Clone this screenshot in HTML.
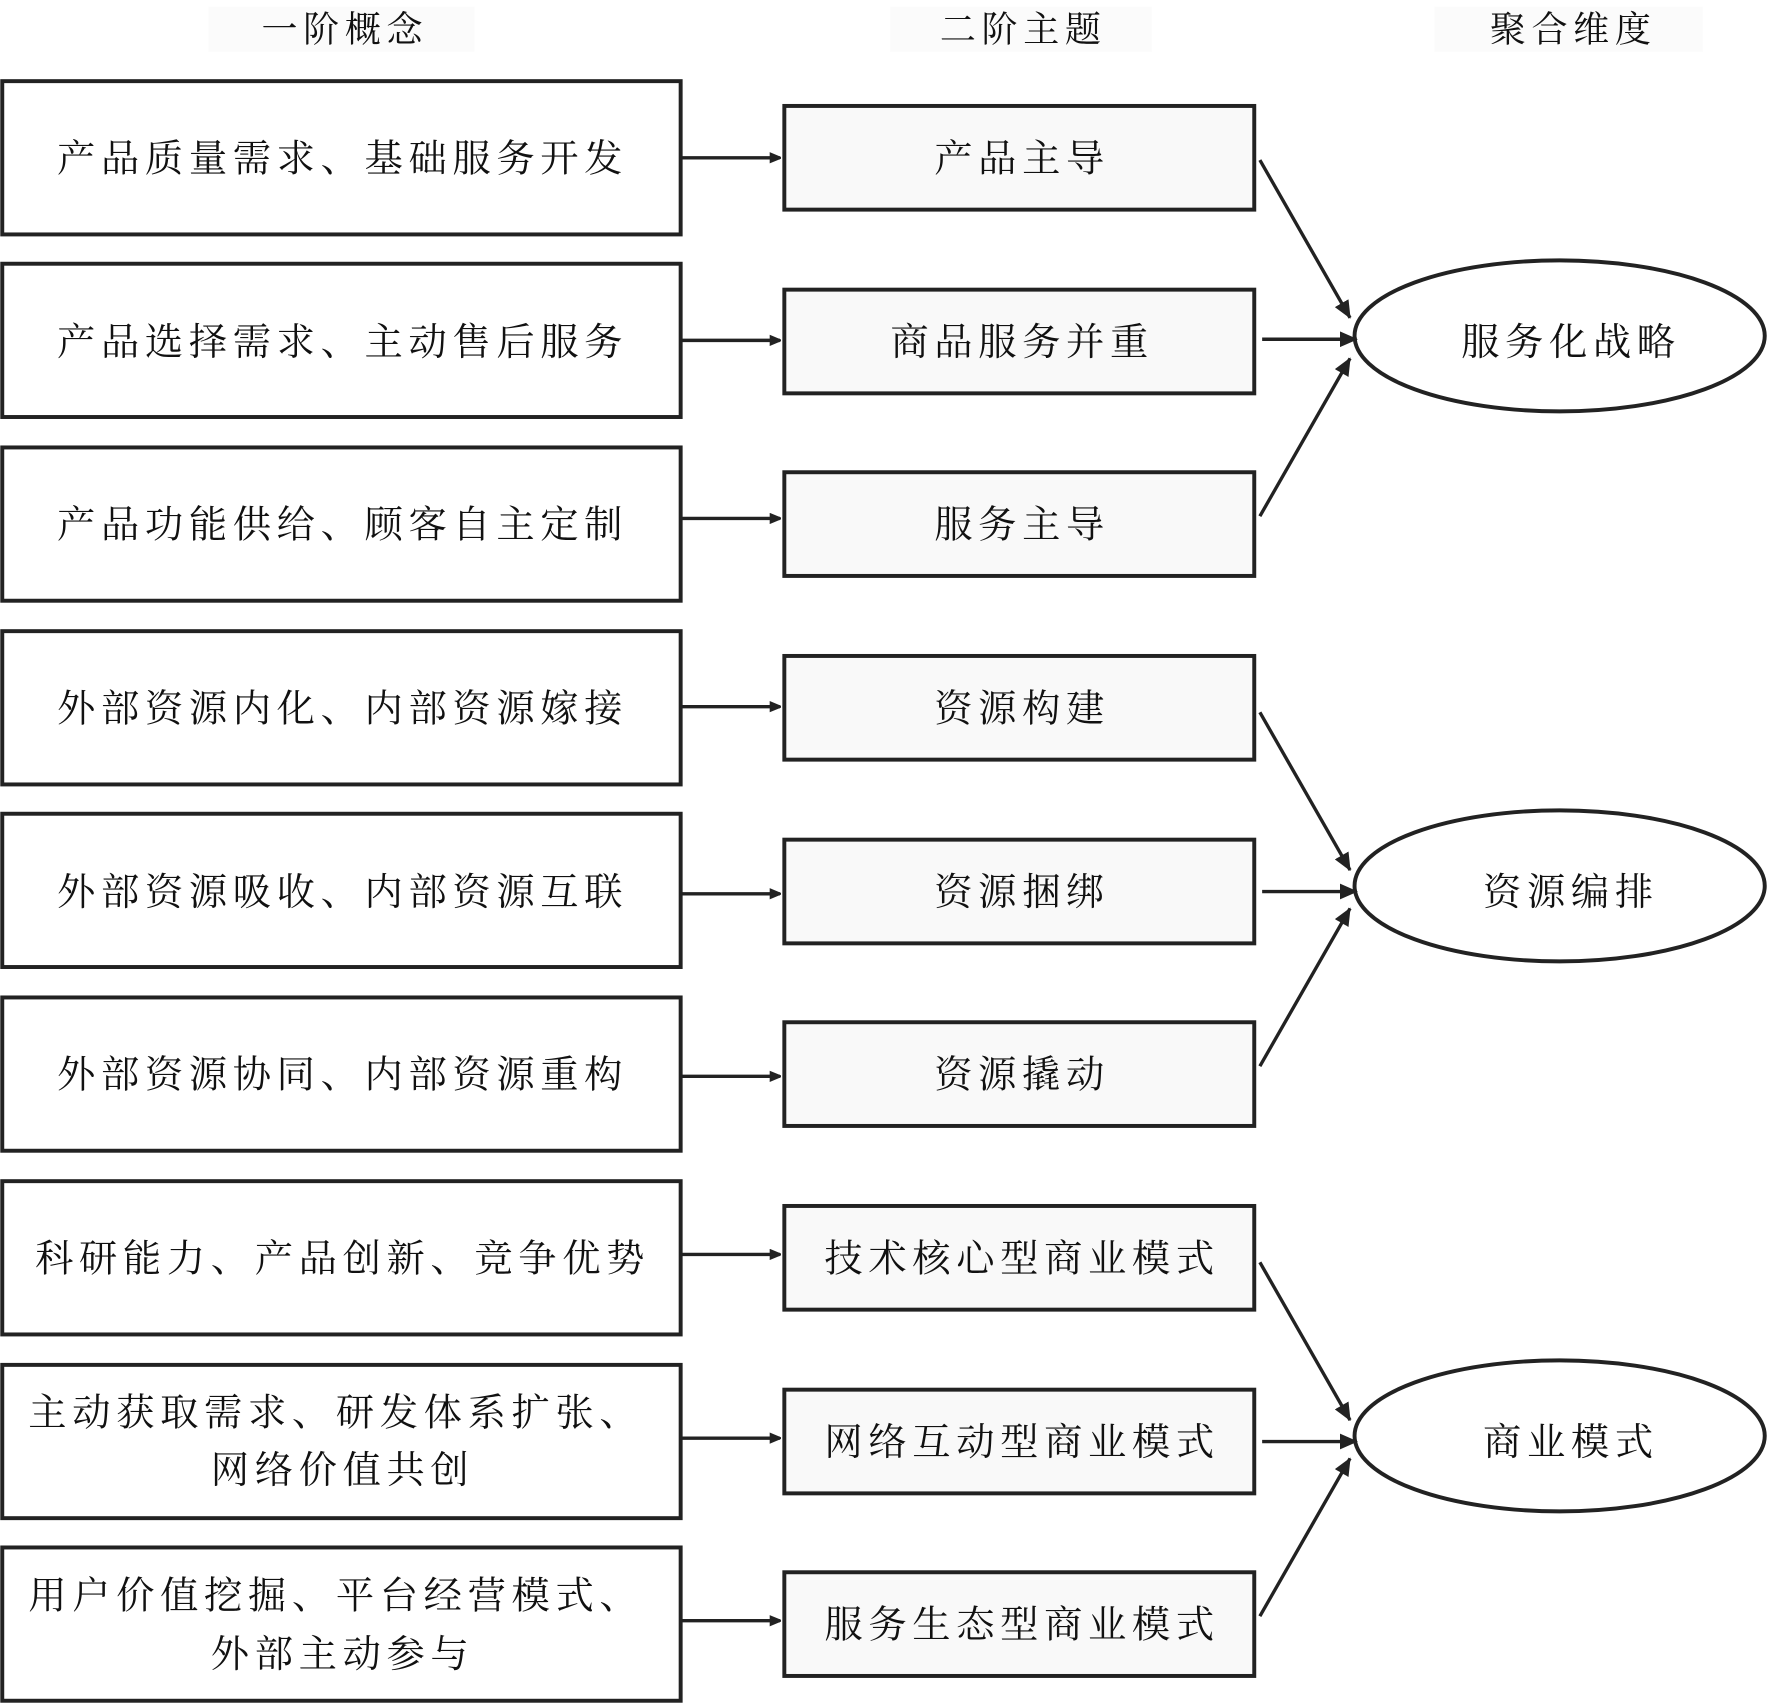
<!DOCTYPE html>
<html><head><meta charset="utf-8"><style>
html,body{margin:0;padding:0;background:#fff;}
svg{display:block;}
text{font-family:"Liberation Serif","Noto Serif CJK SC",serif;fill:#111;}
</style></head><body>
<svg width="1767" height="1703" viewBox="0 0 1568 1511" preserveAspectRatio="none" xmlns="http://www.w3.org/2000/svg">
<defs><marker id="a" markerWidth="10" markerHeight="10" refX="9" refY="5" orient="auto" markerUnits="userSpaceOnUse"><path d="M0,0 L12,5 L0,10 Z" fill="#222"/></marker>
<marker id="b" markerWidth="16" markerHeight="14" refX="15" refY="7" orient="auto" markerUnits="userSpaceOnUse"><path d="M0,0 L16,7 L0,14 Z" fill="#222"/></marker></defs>
<rect x="185" y="6" width="236" height="40" fill="#fbfbfb"/>
<rect x="790" y="6" width="232" height="40" fill="#fbfbfb"/>
<rect x="1273" y="6" width="238" height="40" fill="#fbfbfb"/>
<g font-size="32" text-anchor="middle" letter-spacing="5">
<text x="306" y="37">一阶概念</text>
<text x="908" y="37">二阶主题</text>
<text x="1396" y="37">聚合维度</text>
</g>
<g fill="#fff" stroke="#222" stroke-width="3.5">
<rect x="2" y="72" width="602" height="136"/>
<rect x="2" y="234" width="602" height="136"/>
<rect x="2" y="397" width="602" height="136"/>
<rect x="2" y="560" width="602" height="136"/>
<rect x="2" y="722" width="602" height="136"/>
<rect x="2" y="885" width="602" height="136"/>
<rect x="2" y="1048" width="602" height="136"/>
<rect x="2" y="1211" width="602" height="136"/>
<rect x="2" y="1373" width="602" height="136"/>
</g>
<g fill="#f9f9f9" stroke="#222" stroke-width="3.5">
<rect x="696" y="94" width="417" height="92"/>
<rect x="696" y="257" width="417" height="92"/>
<rect x="696" y="419" width="417" height="92"/>
<rect x="696" y="582" width="417" height="92"/>
<rect x="696" y="745" width="417" height="92"/>
<rect x="696" y="907" width="417" height="92"/>
<rect x="696" y="1070" width="417" height="92"/>
<rect x="696" y="1233" width="417" height="92"/>
<rect x="696" y="1395" width="417" height="92"/>
</g>
<g fill="#fff" stroke="#222" stroke-width="3.5">
<ellipse cx="1384" cy="298" rx="182" ry="67"/>
<ellipse cx="1384" cy="786" rx="182" ry="67"/>
<ellipse cx="1384" cy="1274" rx="182" ry="67"/>
</g>
<g stroke="#222" stroke-width="3" marker-end="url(#a)">
<line x1="605" y1="140" x2="692" y2="140"/>
<line x1="605" y1="302" x2="692" y2="302"/>
<line x1="605" y1="460" x2="692" y2="460"/>
<line x1="605" y1="627" x2="692" y2="627"/>
<line x1="605" y1="793" x2="692" y2="793"/>
<line x1="605" y1="955" x2="692" y2="955"/>
<line x1="605" y1="1113" x2="692" y2="1113"/>
<line x1="605" y1="1276" x2="692" y2="1276"/>
<line x1="605" y1="1438" x2="692" y2="1438"/>
</g>
<g stroke="#222" stroke-width="3" marker-end="url(#b)">
<line x1="1118" y1="142" x2="1198" y2="282"/>
<line x1="1120" y1="301" x2="1204" y2="301"/>
<line x1="1118" y1="458" x2="1198" y2="318"/>
<line x1="1118" y1="632" x2="1198" y2="772"/>
<line x1="1120" y1="791" x2="1204" y2="791"/>
<line x1="1118" y1="946" x2="1198" y2="806"/>
<line x1="1118" y1="1120" x2="1198" y2="1260"/>
<line x1="1120" y1="1279" x2="1204" y2="1279"/>
<line x1="1118" y1="1434" x2="1198" y2="1294"/>
</g>
<g font-size="34" text-anchor="middle" letter-spacing="5">
<text x="304" y="152">产品质量需求、基础服务开发</text>
<text x="304" y="315">产品选择需求、主动售后服务</text>
<text x="304" y="477">产品功能供给、顾客自主定制</text>
<text x="304" y="640">外部资源内化、内部资源嫁接</text>
<text x="304" y="803">外部资源吸收、内部资源互联</text>
<text x="304" y="965">外部资源协同、内部资源重构</text>
<text x="304" y="1128">科研能力、产品创新、竞争优势</text>
<text x="298" y="1265">主动获取需求、研发体系扩张、</text>
<text x="304" y="1316">网络价值共创</text>
<text x="298" y="1427">用户价值挖掘、平台经营模式、</text>
<text x="304" y="1479">外部主动参与</text>
<text x="907" y="152">产品主导</text>
<text x="907" y="315">商品服务并重</text>
<text x="907" y="477">服务主导</text>
<text x="907" y="640">资源构建</text>
<text x="907" y="803">资源捆绑</text>
<text x="907" y="965">资源撬动</text>
<text x="907" y="1128">技术核心型商业模式</text>
<text x="907" y="1291">网络互动型商业模式</text>
<text x="907" y="1453">服务生态型商业模式</text>
<text x="1394" y="315">服务化战略</text>
<text x="1394" y="803">资源编排</text>
<text x="1394" y="1291">商业模式</text>
</g>
</svg>
</body></html>
